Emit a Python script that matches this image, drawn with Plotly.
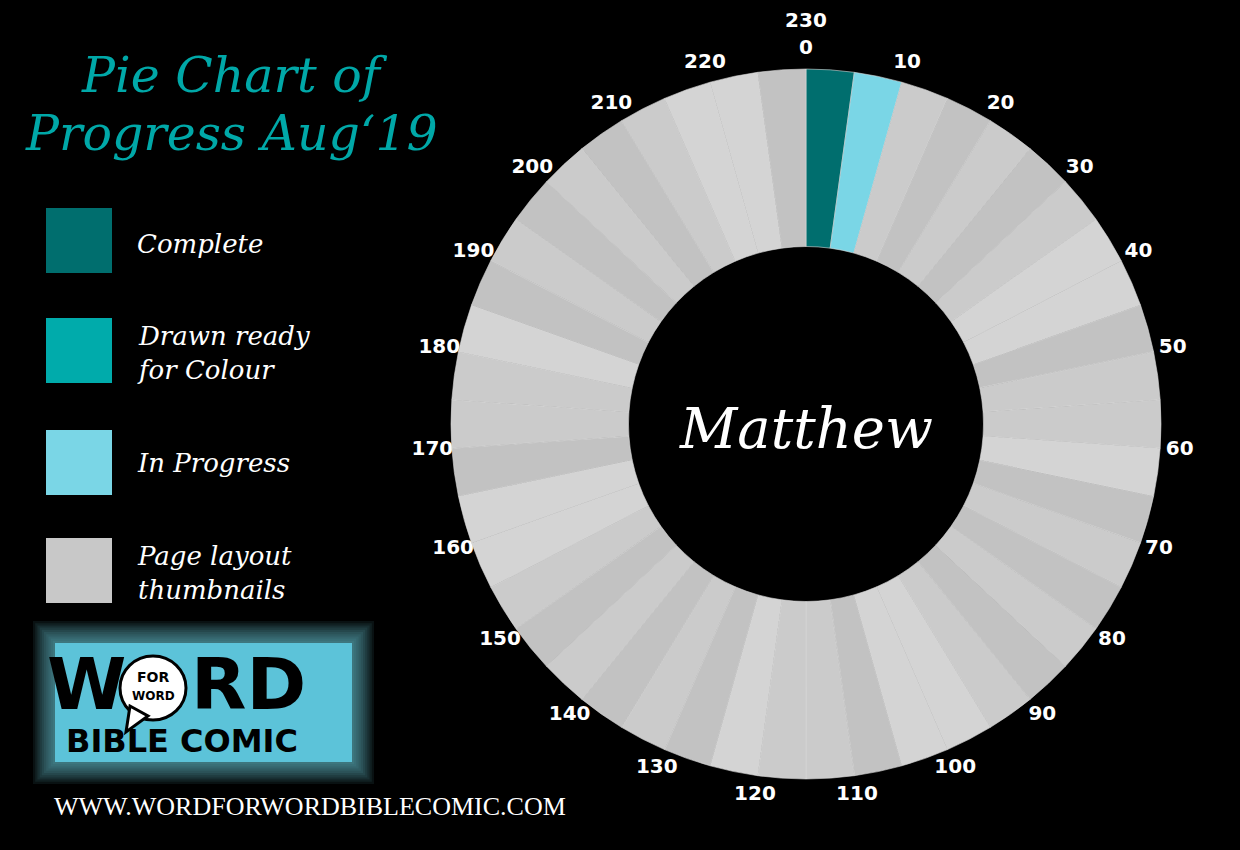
import plotly.graph_objects as go

# ---------------- data ----------------
statuses = ["Complete", "Drawn ready<br>for Colour", "In Progress", "Page layout<br>thumbnails"]
status_colors = ["#006e6e", "#00abab", "#7ad6e6", "#c8c8c8"]

# 46 chunks of 5 pages (0-230), clockwise from the top
segment_pages = [5, 5, 5, 5, 5, 5, 5, 5, 5, 5, 5, 5, 5, 5, 5, 5, 5, 5, 5, 5, 5, 5, 5,
                 5, 5, 5, 5, 5, 5, 5, 5, 5, 5, 5, 5, 5, 5, 5, 5, 5, 5, 5, 5, 5, 5, 5]
segment_status = [0, 2] + [3] * 44
# shade of each thumbnail chunk (L light, M mid, D dark grey)
thumb_shades = ["M", "D", "M", "D", "M", "L", "L", "D", "M", "M", "L",
                "D", "M", "D", "M", "D", "M", "L", "L", "D", "M", "M",
                "L", "D", "M", "D", "M", "D", "M", "L", "L", "D", "M",
                "M", "L", "D", "M", "D", "M", "D", "M", "L", "L", "D"]
shade_colors = {"L": "#d4d4d4", "M": "#cbcbcb", "D": "#c2c2c2"}

tick_pages = [0, 10, 20, 30, 40, 50, 60, 70, 80, 90, 100, 110, 120,
              130, 140, 150, 160, 170, 180, 190, 200, 210, 220]
total_pages = 230
book = "Matthew"
title_lines = ["Pie Chart of", "Progress Aug\u201819"]
website = "WWW.WORDFORWORDBIBLECOMIC.COM"

# ---------------- figure ----------------
W, H = 1240, 850
def px(x):
    return x / W
def py(y):
    return 1 - y / H

cx, cy, R = 806, 424, 355
dom_x = [px(cx - R), px(cx + R)]
dom_y = [py(cy + R), py(cy - R)]
# polar overlay for page labels: radius unit = pie radius
RMAX = 1.19
PR = R * RMAX
pdom_x = [px(cx - PR), px(cx + PR)]
pdom_y = [py(cy + PR), py(cy - PR)]

colors = []
ti = 0
for s in segment_status:
    if s == 3:
        colors.append(shade_colors[thumb_shades[ti]])
        ti += 1
    else:
        colors.append(status_colors[s])

fig = go.Figure()
fig.add_trace(go.Pie(
    values=segment_pages,
    labels=[f"seg{i}" for i in range(len(segment_pages))],
    marker=dict(colors=colors, line=dict(width=0.6, color="#d9d9d9")),
    hole=0.5, sort=False, direction="clockwise", rotation=0,
    textinfo="none", showlegend=False, hoverinfo="skip",
    domain=dict(x=dom_x, y=dom_y),
))

label_font = dict(family="DejaVu Sans", size=20, color="white", weight="bold")
fig.add_trace(go.Scatterpolar(
    r=[1.055] * len(tick_pages),
    theta=[p / total_pages * 360 for p in tick_pages],
    text=[str(p) for p in tick_pages],
    mode="text", textfont=label_font, showlegend=False, hoverinfo="skip",
    cliponaxis=False,
))
fig.add_trace(go.Scatterpolar(
    r=[1.133], theta=[total_pages / total_pages * 360], text=[str(total_pages)],
    mode="text", textfont=label_font, showlegend=False, hoverinfo="skip",
    cliponaxis=False,
))

shapes = []
annotations = []

def ann(x, y, text, font, xanchor="center"):
    annotations.append(dict(x=px(x), y=py(y), xref="paper", yref="paper",
                            xanchor=xanchor, yanchor="middle", align="left",
                            text=text, showarrow=False, font=font))

# title
serif_it = "DejaVu Serif"
ann(234, 75, f"<i>{title_lines[0]}</i>", dict(family=serif_it, size=49, color="#00a8a8"))
ann(231, 133, f"<i>{title_lines[1]}</i>", dict(family=serif_it, size=49, color="#00a8a8"))

# legend
box_tops = [208, 318, 430, 538]
text_y = [244, 353, 463, 573]
for i, (lab, col) in enumerate(zip(statuses, status_colors)):
    shapes.append(dict(type="rect", xref="paper", yref="paper",
                       x0=px(46), x1=px(112), y0=py(box_tops[i] + 65), y1=py(box_tops[i]),
                       fillcolor=col, line=dict(width=0)))
    ann(135, text_y[i], f"<i>{lab}</i>", dict(family=serif_it, size=26, color="white"),
        xanchor="left")

# center label
ann(cx, cy + 4, f"<i>{book}</i>", dict(family=serif_it, size=56, color="white"))

# logo glow
for k in range(10, 0, -1):
    e = k * 2.2
    shapes.append(dict(type="rect", xref="paper", yref="paper",
                       x0=px(55 - e), x1=px(352 + e), y0=py(762 + e), y1=py(643 - e),
                       fillcolor="#6fd4ea", opacity=0.08, line=dict(width=0), layer="below"))
shapes.append(dict(type="rect", xref="paper", yref="paper",
                   x0=px(55), x1=px(352), y0=py(762), y1=py(643),
                   fillcolor="#5cc3d9", line=dict(width=0), layer="below"))
# speech bubble
shapes.append(dict(type="circle", xref="paper", yref="paper",
                   x0=px(120), x1=px(186), y0=py(720), y1=py(656),
                   fillcolor="white", line=dict(color="black", width=3)))
shapes.append(dict(type="path", xref="paper", yref="paper",
                   path=f"M {px(130)} {py(706)} L {px(126)} {py(732)} L {px(148)} {py(716)} Z",
                   fillcolor="white", line=dict(color="black", width=3)))
logo_font = dict(family="DejaVu Sans", size=72, color="black", weight="bold")
ann(86, 684, "W", logo_font)
ann(248, 684, "RD", logo_font)
ann(153, 677, "FOR", dict(family="DejaVu Sans", size=14, color="black", weight="bold"))
ann(153, 696, "WORD", dict(family="DejaVu Sans", size=12, color="black", weight="bold"))
ann(182, 741, "BIBLE COMIC", dict(family="DejaVu Sans", size=32, color="black", weight="bold"))

# website
ann(310, 806, website, dict(family="Liberation Serif", size=26, color="white"))

fig.update_layout(
    width=W, height=H,
    margin=dict(l=0, r=0, t=0, b=0),
    paper_bgcolor="black", plot_bgcolor="black",
    polar=dict(domain=dict(x=pdom_x, y=pdom_y), bgcolor="rgba(0,0,0,0)",
               radialaxis=dict(visible=False, range=[0, RMAX]),
               angularaxis=dict(visible=False, rotation=90, direction="clockwise")),
    shapes=shapes, annotations=annotations,
)

fig.write_html("out.html", config={"displayModeBar": False},
               post_script="document.body.style.margin='0';")
